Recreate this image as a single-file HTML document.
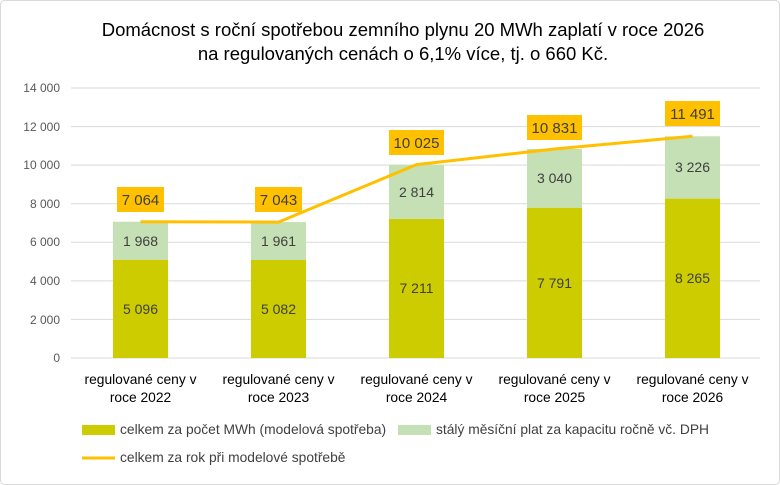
<!DOCTYPE html>
<html><head><meta charset="utf-8"><style>
body{margin:0;background:#fff}
svg{display:block;font-family:"Liberation Sans",Calibri,sans-serif}
</style></head><body>
<svg width="780" height="485" viewBox="0 0 780 485">
<rect x="0.5" y="0.5" width="779" height="484" rx="4" fill="#fff" stroke="#d9d9d9"/>
<text x="403" y="36" text-anchor="middle" font-size="18.5" fill="#000">Domácnost s roční spotřebou zemního plynu 20 MWh zaplatí v roce 2026</text>
<text x="403" y="60" text-anchor="middle" font-size="18.5" fill="#000">na regulovaných cenách o 6,1% více, tj. o 660 Kč.</text>
<g stroke="#d9d9d9" stroke-width="1">
<line x1="71" x2="760" y1="88" y2="88"/><line x1="71" x2="760" y1="126.6" y2="126.6"/>
<line x1="71" x2="760" y1="165.1" y2="165.1"/><line x1="71" x2="760" y1="203.7" y2="203.7"/>
<line x1="71" x2="760" y1="242.3" y2="242.3"/><line x1="71" x2="760" y1="280.9" y2="280.9"/>
<line x1="71" x2="760" y1="319.4" y2="319.4"/><line x1="71" x2="760" y1="358" y2="358"/>
</g>
<g font-size="12" fill="#595959" text-anchor="end">
<text x="60" y="92">14 000</text><text x="60" y="131">12 000</text><text x="60" y="169">10 000</text>
<text x="60" y="208">8 000</text><text x="60" y="246">6 000</text><text x="60" y="285">4 000</text>
<text x="60" y="324">2 000</text><text x="60" y="362">0</text>
</g>
<g>
<rect x="113" y="259.7" width="55" height="98.3" fill="#cccc00"/><rect x="113" y="221.7" width="55" height="38" fill="#c5e0b4"/>
<rect x="251" y="260" width="55" height="98" fill="#cccc00"/><rect x="251" y="222.1" width="55" height="37.9" fill="#c5e0b4"/>
<rect x="389" y="218.9" width="55" height="139.1" fill="#cccc00"/><rect x="389" y="164.6" width="55" height="54.3" fill="#c5e0b4"/>
<rect x="527" y="207.7" width="55" height="150.3" fill="#cccc00"/><rect x="527" y="149" width="55" height="58.7" fill="#c5e0b4"/>
<rect x="665" y="198.6" width="55" height="159.4" fill="#cccc00"/><rect x="665" y="136.3" width="55" height="62.3" fill="#c5e0b4"/>
</g>
<g font-size="14" fill="#404040" text-anchor="middle">
<text x="140.5" y="314">5 096</text><text x="140.5" y="246">1 968</text>
<text x="278.5" y="314">5 082</text><text x="278.5" y="246">1 961</text>
<text x="416.5" y="293">7 211</text><text x="416.5" y="197">2 814</text>
<text x="554.5" y="288">7 791</text><text x="554.5" y="183">3 040</text>
<text x="692.5" y="283">8 265</text><text x="692.5" y="172">3 226</text>
</g>
<polyline points="140.5,221.7 278.5,222.1 416.5,164.6 554.5,149 692.5,136.3" fill="none" stroke="#ffc000" stroke-width="3" stroke-linejoin="round"/>
<g fill="#ffc000">
<rect x="117" y="187" width="47" height="25"/><rect x="255" y="187" width="47" height="25"/>
<rect x="389" y="130" width="55" height="25"/><rect x="527" y="115" width="55" height="25"/><rect x="665" y="101" width="55" height="25"/>
</g>
<g font-size="15" fill="#404040" text-anchor="middle">
<text x="140.5" y="205">7 064</text><text x="278.5" y="205">7 043</text>
<text x="416.5" y="148">10 025</text><text x="554.5" y="133">10 831</text><text x="692.5" y="119">11 491</text>
</g>
<g font-size="13.8" fill="#000" text-anchor="middle">
<text x="140.5" y="384">regulované ceny v</text><text x="140.5" y="402">roce 2022</text>
<text x="278.5" y="384">regulované ceny v</text><text x="278.5" y="402">roce 2023</text>
<text x="416.5" y="384">regulované ceny v</text><text x="416.5" y="402">roce 2024</text>
<text x="554.5" y="384">regulované ceny v</text><text x="554.5" y="402">roce 2025</text>
<text x="692.5" y="384">regulované ceny v</text><text x="692.5" y="402">roce 2026</text>
</g>
<rect x="82" y="425" width="33" height="10" fill="#cccc00"/>
<text x="120" y="434" font-size="13.8" fill="#404040">celkem za počet MWh (modelová spotřeba)</text>
<rect x="398" y="425" width="33" height="10" fill="#c5e0b4"/>
<text x="436" y="434" font-size="13.8" fill="#404040">stálý měsíční plat za kapacitu ročně vč. DPH</text>
<line x1="82" x2="115" y1="458" y2="458" stroke="#ffc000" stroke-width="3"/>
<text x="120" y="462" font-size="13.8" fill="#404040">celkem za rok při modelové spotřebě</text>
</svg>
</body></html>
